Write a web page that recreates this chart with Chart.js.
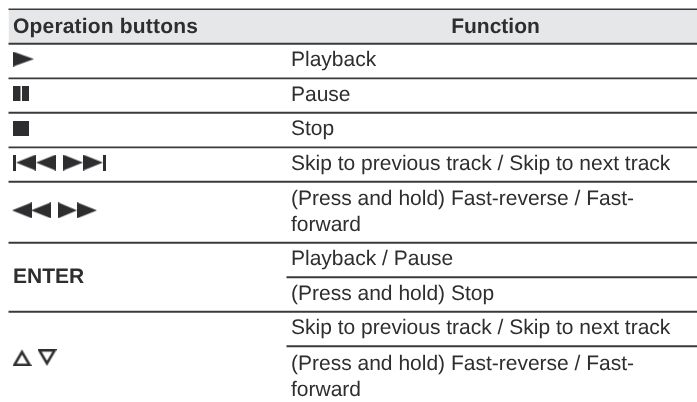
<!DOCTYPE html>
<html><head><meta charset="utf-8">
<style>html,body{margin:0;padding:0;background:#fff}canvas{display:block}</style>
<script src="https://cdn.jsdelivr.net/npm/chart.js@4"></script>
</head><body><canvas id="c" width="697" height="402"></canvas>
<script>
// ---- table content ----
const headers = ["Operation buttons", "Function"];
const rowSpans = [1, 1, 1, 1, 1, 1.77, 1, 1, 1, 1.77];
const functionLines = [
  ["Playback"], ["Pause"], ["Stop"],
  ["Skip to previous track / Skip to next track"],
  ["(Press and hold) Fast-reverse / Fast-", "forward"],
  ["Playback / Pause"], ["(Press and hold) Stop"],
  ["Skip to previous track / Skip to next track"],
  ["(Press and hold) Fast-reverse / Fast-", "forward"]
];
// first-column cell: [first row, rows merged, glyphs or text]
const buttonCells = [
  [0, 1, ["play"]], [1, 1, ["pause"]], [2, 1, ["stop"]],
  [3, 1, ["prev", "next"]], [4, 1, ["rew", "ff"]],
  [5, 2, "ENTER"], [7, 2, ["up", "down"]]
];
// rows whose upper rule spans the right column only
const innerRuleRows = [6, 8];

// ---- look ----
const INK = "#2e2e30", RULE = "#3a3a3c";
const LEFT = 8.5, SPLIT = 286.5, RIGHT = 697, PADL = 13, PADR = 291, ROW = 34.5, TOP = 9.3;
const FONT = '"Liberation Sans", Arial, sans-serif';
const FS = 21;

// ---- glyph sprites ----
function sprite(w, h, draw) {
  const c = document.createElement("canvas");
  c.width = w; c.height = h;
  const g = c.getContext("2d");
  g.fillStyle = INK; g.strokeStyle = INK;
  draw(g, w, h);
  return c;
}
function tri(g, x0, x1, h) { g.beginPath(); g.moveTo(x0, 0); g.lineTo(x1, h / 2); g.lineTo(x0, h); g.closePath(); g.fill(); }
const glyphs = {
  play:  sprite(21, 15, (g, w, h) => tri(g, 0, 21, h)),
  pause: sprite(16, 15, (g, w, h) => { g.fillRect(0, 0, 7.5, h); g.fillRect(9, 0, 7, h); }),
  stop:  sprite(16, 15, (g, w, h) => g.fillRect(0, 0, w, h)),
  prev:  sprite(43, 16, (g, w, h) => { g.fillRect(0, 0, 3, h); tri(g, 23, 3, h); tri(g, 43, 23, h); }),
  next:  sprite(43, 16, (g, w, h) => { tri(g, 0, 20, h); tri(g, 20, 40, h); g.fillRect(40, 0, 3, h); }),
  rew:   sprite(39, 16, (g, w, h) => { tri(g, 20, 0, h); tri(g, 39, 19, h); }),
  ff:    sprite(39, 16, (g, w, h) => { tri(g, 0, 19, h); tri(g, 19, 39, h); }),
  up:    sprite(19, 17, (g, w, h) => { g.lineWidth = 2.6; g.lineJoin = "miter"; g.beginPath(); g.moveTo(9.5, 2.8); g.lineTo(17, 15.7); g.lineTo(2, 15.7); g.closePath(); g.stroke(); }),
  down:  sprite(19, 17, (g, w, h) => { g.lineWidth = 2.6; g.lineJoin = "miter"; g.beginPath(); g.moveTo(9.5, 14.2); g.lineTo(17, 1.3); g.lineTo(2, 1.3); g.closePath(); g.stroke(); })
};
const nudge = { rew: -1, ff: -1, up: -0.5, down: -1.5 };

// ---- derived positions, in row units ----
const edges = rowSpans.reduce((a, s) => (a.push(a[a.length - 1] + s), a), [0]);
const ruleSets = edges.slice(0, edges.length - 1).map((e, i) => {
  const fnRow = i - 1;
  const inner = innerRuleRows.includes(fnRow);
  return { y: e, from: inner ? SPLIT : LEFT, width: i === 0 ? 1.6 : (i === 2 || i === 4 ? 1.7 : 2), color: RULE };
});
const glyphPoints = [], glyphStyles = [];
const GAP = 7;
buttonCells.forEach(([row, n, content]) => {
  if (typeof content === "string") return;
  const mid = (edges[row + 1] + edges[row + 1 + n]) / 2 - 2 / ROW;
  let x = PADL;
  content.forEach(name => {
    const g = glyphs[name];
    glyphPoints.push({ x: x + g.width / 2 + (nudge[name] || 0), y: mid });
    glyphStyles.push(g);
    x += g.width + GAP;
  });
});

const tablePlugin = {
  id: "tableText",
  afterDatasetsDraw(chart) {
    const { ctx, scales: { x, y } } = chart;
    ctx.save();
    ctx.fillStyle = INK;
    ctx.textBaseline = "alphabetic";
    ctx.textRendering = "geometricPrecision";
    ctx.font = `bold ${FS}px ${FONT}`;
    ctx.textAlign = "left";
    ctx.letterSpacing = "0.18px";
    ctx.fillText(headers[0], x.getPixelForValue(PADL), y.getPixelForValue(0) + 23.5);
    ctx.letterSpacing = "0px";
    ctx.textAlign = "center";
    ctx.fillText(headers[1], x.getPixelForValue(495.5), y.getPixelForValue(0) + 23.5);
    ctx.textAlign = "left";
    buttonCells.forEach(([row, n, content]) => {
      if (typeof content !== "string") return;
      const mid = (y.getPixelForValue(edges[row + 1]) + y.getPixelForValue(edges[row + 1 + n])) / 2;
      ctx.fillText(content, x.getPixelForValue(PADL), mid + 6);
    });
    ctx.font = `${FS}px ${FONT}`;
    functionLines.forEach((lines, i) => {
      const top = y.getPixelForValue(edges[i + 1]);
      const first = lines.length > 1 ? 23.4 : 22.6;
      lines.forEach((t, k) => ctx.fillText(t, x.getPixelForValue(PADR), top + first + k * 26));
    });
    ctx.restore();
  }
};

new Chart(document.getElementById("c"), {
  type: "scatter",
  plugins: [tablePlugin],
  data: {
    datasets: [
      { data: [{ x: LEFT, y: 0 }, { x: RIGHT, y: 0 }], showLine: true, pointRadius: 0, borderWidth: 0,
        fill: { target: { value: edges[1] } }, backgroundColor: "#e6e7e8", order: 5 },
      ...ruleSets.map(r => ({ data: [{ x: r.from, y: r.y }, { x: RIGHT, y: r.y }], showLine: true, pointRadius: 0,
        borderColor: r.color, borderWidth: r.width, order: 2 })),
      { data: glyphPoints, pointStyle: glyphStyles, pointRadius: 8, showLine: false, order: 1 }
    ]
  },
  options: {
    responsive: false, animation: false, events: [],
    layout: { padding: 0, autoPadding: false },
    plugins: { legend: { display: false }, tooltip: { enabled: false } },
    scales: {
      x: { type: "linear", min: 0, max: 697, display: false },
      y: { type: "linear", reverse: true, min: -TOP / ROW, max: (402 - TOP) / ROW, display: false }
    }
  }
});
</script></body></html>
